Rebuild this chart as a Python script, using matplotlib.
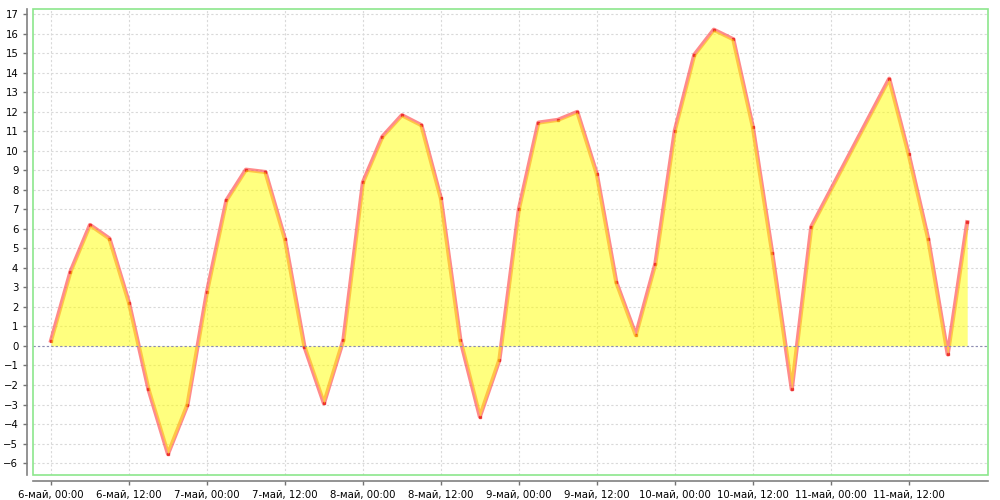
import matplotlib
matplotlib.use("Agg")
import matplotlib.pyplot as plt
from matplotlib.patches import Rectangle
from datetime import datetime, timedelta

start = datetime(2024, 5, 6, 0, 0)

# hours since 6 May 00:00 (3-hour readings, a gap on 11 May night)
hours = [0, 3, 6, 9, 12, 15, 18, 21, 24, 27, 30, 33, 36, 39, 42, 45,
         48, 51, 54, 57, 60, 63, 66, 69, 72, 75, 78, 81, 84, 87, 90, 93,
         96, 99, 102, 105, 108, 111, 114, 117, 129, 132, 135, 138, 141]
temps = [0.27, 3.81, 6.2, 5.5, 2.22, -2.22, -5.53, -3.02, 2.77, 7.46, 9.03, 8.91,
         5.48, -0.03, -2.94, 0.31, 8.38, 10.72, 11.82, 11.31, 7.56, 0.31, -3.62,
         -0.72, 7.0, 11.44, 11.58, 11.99, 8.81, 3.26, 0.56, 4.2, 11.03, 14.91,
         16.2, 15.71, 11.24, 4.75, -2.22, 6.1, 13.69, 9.82, 5.48, -0.43, 6.34]

tick_hours = [0, 12, 24, 36, 48, 60, 72, 84, 96, 108, 120, 132]
tick_labels = ["6-май, 00:00", "6-май, 12:00", "7-май, 00:00", "7-май, 12:00",
               "8-май, 00:00", "8-май, 12:00", "9-май, 00:00", "9-май, 12:00",
               "10-май, 00:00", "10-май, 12:00", "11-май, 00:00", "11-май, 12:00"]
y_ticks = list(range(-6, 18))

times = [start + timedelta(hours=h) for h in hours]
tick_times = [start + timedelta(hours=h) for h in tick_hours]

fig = plt.figure(figsize=(10, 5), dpi=100)
ax = fig.add_axes([0.033, 0.05, 0.955, 0.932])

ax.plot(times, temps, color=(1.0, 0.3, 0.3), alpha=0.65, linewidth=3, zorder=2)
ax.plot(times, temps, linestyle="none", marker="s", markersize=1.6,
        color=(0.9, 0.1, 0.1), alpha=0.7, zorder=3)
# fill sits over the line so the inner edge turns orange, as in the original
ax.fill_between(times, temps, 0, color=(1.0, 1.0, 0.0), alpha=0.5, linewidth=0, zorder=4)
ax.axhline(0, color=(0.55, 0.55, 0.7), linestyle=(0, (2, 2)), linewidth=0.8, zorder=4.5)

ax.set_xlim(start - timedelta(hours=2.77), start + timedelta(hours=144.2))
ax.set_ylim(-6.61, 17.26)
ax.set_xticks(tick_times)
ax.set_xticklabels(tick_labels)
ax.set_yticks(y_ticks)
ax.tick_params(labelsize=7.3, colors=(0.45, 0.45, 0.45), labelcolor="black",
               length=3, width=1)

ax.grid(True, color=(0.85, 0.85, 0.85), linestyle=(0, (2, 2)), linewidth=0.8, zorder=0)
ax.set_axisbelow(True)

# grey axis lines pulled away from the green plot border
for side in ["top", "right"]:
    ax.spines[side].set_visible(False)
for side in ["left", "bottom"]:
    ax.spines[side].set_position(("outward", 4))
    ax.spines[side].set_color((0.5, 0.5, 0.5))
    ax.spines[side].set_linewidth(1.2)

ax.add_patch(Rectangle((0, 0), 1, 1, transform=ax.transAxes, fill=False,
                       edgecolor=(0.55, 0.9, 0.55), linewidth=1.2, clip_on=False, zorder=5))

fig.savefig("out.png", dpi=100)
